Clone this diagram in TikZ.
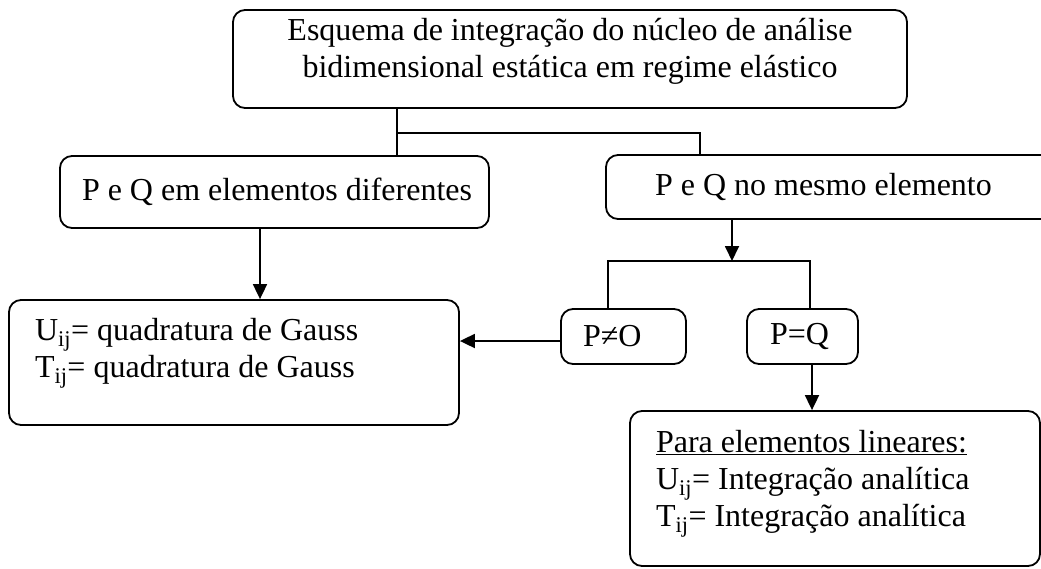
\documentclass[tikz,border=0pt]{standalone}
\usepackage{fontspec}
\setmainfont{Liberation Serif}
\usetikzlibrary{arrows.meta}
\begin{document}
\begin{tikzpicture}[x=1pt,y=-1pt,
    caixa/.style={draw,line width=1.8pt,rounded corners=12pt,align=flush left,
      font=\fontsize{32}{37}\selectfont},
    seta/.style={line width=1.8pt,-{Triangle[length=15pt,width=14pt]}},
    liga/.style={line width=1.8pt}]
    \useasboundingbox (0,0) rectangle (1041,568);
    \clip (0,0) rectangle (1041,568);
    \node[caixa,align=center,minimum width=674pt,minimum height=98pt] (topo) at (570,59)
      {\mbox{}\\[-30pt]Esquema de integração do núcleo de análise\\bidimensional estática em regime elástico};
    \node[caixa,minimum width=429pt,minimum height=72pt,inner xsep=12pt,text width=405pt] (difer) at (274.5,192)
      {\hspace*{10pt}P e Q em elementos diferentes};
    \node[caixa,minimum width=474pt,minimum height=64pt,inner xsep=49pt,text width=376pt] (mesmo) at (843,187)
      {P e Q no mesmo elemento};
    \node[caixa,minimum width=450pt,minimum height=125pt,inner xsep=26pt,text width=398pt] (gauss) at (234,362.5)
      {U\textsubscript{ij}= quadratura de Gauss\\T\textsubscript{ij}= quadratura de Gauss\\[-8pt]\mbox{}};
    \node[caixa,minimum width=125pt,minimum height=55pt,inner xsep=22pt,text width=81pt] (pdif) at (623.5,336.5)
      {P≠O};
    \node[caixa,minimum width=111pt,minimum height=55pt,inner xsep=23pt,text width=65pt] (pigual) at (802.5,336.5)
      {P=Q};
    \node[caixa,minimum width=410pt,minimum height=155pt,inner xsep=26pt,text width=358pt] (linear) at (835,488.5)
      {\underline{Para elementos lineares:}\\U\textsubscript{ij}= Integração analítica\\T\textsubscript{ij}= Integração analítica\\[-17pt]\mbox{}};
    % ligacoes
    \coordinate (s1) at (397,133);
    \coordinate (s2) at (700,133);
    \coordinate (s3) at (732,261);
    \coordinate (s4) at (608,261);
    \coordinate (s5) at (810,261);
    \coordinate (a1) at (260,0);
    \coordinate (a2) at (812,0);
    \coordinate (a3) at (0,341);
    \draw[liga] (topo.south -| s1) -- (difer.north -| s1);
    \draw[liga] (s1) -- (s2) -- (mesmo.north -| s2);
    \draw[seta] (difer.south -| a1) -- (gauss.north -| a1);
    \draw[seta] (mesmo.south -| s3) -- (s3);
    \draw[liga] (pdif.north -| s4) -- (s4) -- (s5) -- (pigual.north -| s5);
    \draw[seta] (pdif.west |- a3) -- (gauss.east |- a3);
    \draw[seta] (pigual.south -| a2) -- (linear.north -| a2);
\end{tikzpicture}
\end{document}
